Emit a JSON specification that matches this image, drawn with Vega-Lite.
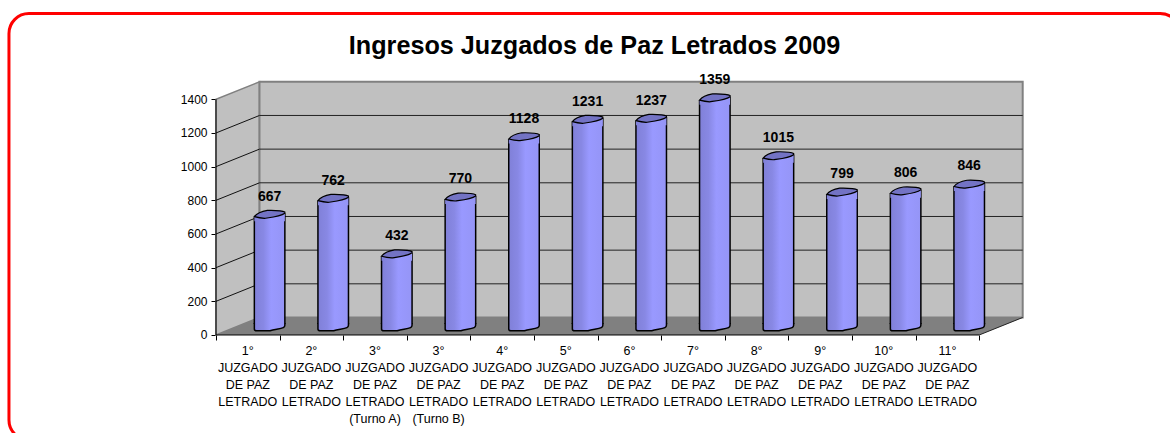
{
"$schema":"https://vega.github.io/schema/vega-lite/v6.json",
"width":1170,"height":433,"padding":0,"autosize":{"type":"none"},
"background":"white",
"title":{"text":"Ingresos Juzgados de Paz Letrados 2009","font":"Liberation Sans","fontWeight":"bold","fontSize":25.2,"color":"#000000","anchor":"middle","dx":9.5,"dy":63,"frame":"group"},
"config":{"view":{"stroke":null},"font":"Liberation Sans"},
"datasets":{
"bars":[
{"juzgado":"1°\nJUZGADO\nDE PAZ\nLETRADO","slot":0.5,"value":667},
{"juzgado":"2°\nJUZGADO\nDE PAZ\nLETRADO","slot":1.5,"value":762},
{"juzgado":"3°\nJUZGADO\nDE PAZ\nLETRADO\n(Turno A)","slot":2.5,"value":432},
{"juzgado":"3°\nJUZGADO\nDE PAZ\nLETRADO\n(Turno B)","slot":3.5,"value":770},
{"juzgado":"4°\nJUZGADO\nDE PAZ\nLETRADO","slot":4.5,"value":1128},
{"juzgado":"5°\nJUZGADO\nDE PAZ\nLETRADO","slot":5.5,"value":1231},
{"juzgado":"6°\nJUZGADO\nDE PAZ\nLETRADO","slot":6.5,"value":1237},
{"juzgado":"7°\nJUZGADO\nDE PAZ\nLETRADO","slot":7.5,"value":1359},
{"juzgado":"8°\nJUZGADO\nDE PAZ\nLETRADO","slot":8.5,"value":1015},
{"juzgado":"9°\nJUZGADO\nDE PAZ\nLETRADO","slot":9.5,"value":799},
{"juzgado":"10°\nJUZGADO\nDE PAZ\nLETRADO","slot":10.5,"value":806},
{"juzgado":"11°\nJUZGADO\nDE PAZ\nLETRADO","slot":11.5,"value":846}
],
"grid":[{"v":200},{"v":400},{"v":600},{"v":800},{"v":1000},{"v":1200}]
},
"encoding":{
"x":{"field":"x","type":"quantitative","scale":{"domain":[-3.396,15.0],"range":[0,1170],"nice":false,"zero":false},
"axis":{"values":[0,1,2,3,4,5,6,7,8,9,10,11,12],"labels":false,"domain":false,"grid":false,"ticks":true,"tickSize":5,"tickColor":"#000000","tickWidth":1,"title":null,"offset":-98}},
"y":{"field":"y","type":"quantitative","scale":{"domain":[-582.1,1989.8],"range":[433,0],"nice":false,"zero":false},
"axis":{"values":[0,200,400,600,800,1000,1200,1400],"format":"d","labels":true,"labelFontSize":12,"labelFont":"Liberation Sans","labelColor":"#000000","labelPadding":4,"domain":false,"grid":false,"ticks":true,"tickSize":5,"tickColor":"#000000","tickWidth":1,"title":null,"offset":-216}}
},
"layer":[
{"data":{"values":[{"x":-3.255,"x2":15.16,"y":1909.6,"y2":-623.6}]},
 "mark":{"type":"rect","cornerRadius":20,"fill":"transparent","stroke":"#ff0000","strokeWidth":3},
 "encoding":{"x2":{"field":"x2"},"y2":{"field":"y2"}}},
{"data":{"values":[{"x":0,"y":0,"y2":1400},{"x":0.684,"y":104,"y2":1504}]},
 "mark":{"type":"area","fill":"#c0c0c0","stroke":"#808080","strokeWidth":1.5,"opacity":1},
 "encoding":{"y2":{"field":"y2"}}},
{"data":{"values":[{"x":0.684,"x2":12.684,"y":104,"y2":1504}]},
 "mark":{"type":"rect","fill":"#c0c0c0","stroke":"#808080","strokeWidth":2},
 "encoding":{"x2":{"field":"x2"},"y2":{"field":"y2"}}},
{"data":{"name":"grid"},
 "transform":[{"calculate":"0","as":"x"},{"calculate":"0.684","as":"x2"},{"calculate":"datum.v","as":"y"},{"calculate":"datum.v+104","as":"y2"}],
 "mark":{"type":"rule","stroke":"#111111","strokeWidth":1},
 "encoding":{"x2":{"field":"x2"},"y2":{"field":"y2"}}},
{"data":{"name":"grid"},
 "transform":[{"calculate":"0.684","as":"x"},{"calculate":"12.684","as":"x2"},{"calculate":"datum.v+104","as":"y"}],
 "mark":{"type":"rule","stroke":"#222222","strokeWidth":1},
 "encoding":{"x2":{"field":"x2"}}},
{"data":{"values":[{"x":0,"y":0,"y2":0},{"x":0.684,"y":0,"y2":104},{"x":12,"y":0,"y2":104},{"x":12.684,"y":104,"y2":104}]},
 "mark":{"type":"area","fill":"#808080","opacity":1},
 "encoding":{"y2":{"field":"y2"}}},
{"data":{"values":[{"x":12,"x2":12.684,"y":0,"y2":104}]},
 "mark":{"type":"rule","stroke":"#222222","strokeWidth":1},
 "encoding":{"x2":{"field":"x2"},"y2":{"field":"y2"}}},
{"data":{"values":[{"x":0,"x2":12,"y":0}]},
 "mark":{"type":"rule","stroke":"#000000","strokeWidth":1},
 "encoding":{"x2":{"field":"x2"}}},
{"data":{"values":[{"x":0,"y":0,"y2":1400}]},
 "mark":{"type":"rule","stroke":"#000000","strokeWidth":1},
 "encoding":{"y2":{"field":"y2"}}},
{"data":{"name":"bars"},
 "transform":[{"calculate":"datum.slot+0.103","as":"x"},{"calculate":"datum.slot+0.583","as":"x2"},{"calculate":"datum.value+16","as":"y"},{"calculate":"65","as":"y2"}],
 "mark":{"type":"rect","fill":{"gradient":"linear","x1":0,"y1":0,"x2":1,"y2":0,"stops":[{"offset":0,"color":"#8080d8"},{"offset":0.3,"color":"#8888e4"},{"offset":0.55,"color":"#9999ff"},{"offset":1,"color":"#9595f6"}]}},
 "encoding":{"x2":{"field":"x2"},"y2":{"field":"y2"}}},
{"data":{"name":"bars"},
 "transform":[{"calculate":"datum.slot+0.103","as":"x"},{"calculate":"datum.value+36","as":"y"},{"calculate":"65","as":"y2"}],
 "mark":{"type":"rule","stroke":"#000000","strokeWidth":1.5},
 "encoding":{"y2":{"field":"y2"}}},
{"data":{"name":"bars"},
 "transform":[{"calculate":"datum.slot+0.583","as":"x"},{"calculate":"datum.value+56","as":"y"},{"calculate":"65","as":"y2"}],
 "mark":{"type":"rule","stroke":"#000000","strokeWidth":1.5},
 "encoding":{"y2":{"field":"y2"}}},
{"data":{"name":"bars"},
 "transform":[{"calculate":"datum.slot+0.343","as":"x"},{"calculate":"datum.value+36","as":"y"}],
 "mark":{"type":"point","filled":true,"opacity":1,"size":930,"shape":"M-1 0 L1 -.22 L1 .3 L-1 .3Z","strokeWidth":0,"fill":{"gradient":"linear","x1":0,"y1":0,"x2":1,"y2":0,"stops":[{"offset":0,"color":"#8080d8"},{"offset":0.3,"color":"#8888e4"},{"offset":0.55,"color":"#9999ff"},{"offset":1,"color":"#9595f6"}]}}},
{"data":{"name":"bars"},
 "transform":[{"calculate":"datum.slot+0.343","as":"x"},{"calculate":"datum.value+36","as":"y"}],
 "mark":{"type":"point","filled":true,"opacity":1,"size":930,"shape":"M-1 0 C-.8 .05 -.5 .1 -.34 .11 C.1 .05 .7 0 1 -.22 L1 -.3 C.8 -.42 .3 -.42 -.15 -.41 C-.5 -.35 -.85 -.2 -1 0Z","fill":"#7373c4","stroke":"#000000","strokeWidth":1.2}},
{"data":{"name":"bars"},
 "transform":[{"calculate":"datum.slot+0.343","as":"x"},{"calculate":"25.5","as":"y"}],
 "mark":{"type":"point","filled":true,"opacity":1,"size":930,"shape":"M-1 -.5 L-1 -.1 Q-1 0 -.85 0 L.03 0 C.3 -.1 .7 -.1 .9 -.2 Q1 -.25 1 -.35 L1 -.5Z","strokeWidth":0,"fill":{"gradient":"linear","x1":0,"y1":0,"x2":1,"y2":0,"stops":[{"offset":0,"color":"#8080d8"},{"offset":0.3,"color":"#8888e4"},{"offset":0.55,"color":"#9999ff"},{"offset":1,"color":"#9595f6"}]}}},
{"data":{"name":"bars"},
 "transform":[{"calculate":"datum.slot+0.343","as":"x"},{"calculate":"25.5","as":"y"}],
 "mark":{"type":"point","filled":false,"opacity":1,"size":930,"shape":"M-1 -.5 L-1 -.1 Q-1 0 -.85 0 L.03 0 C.3 -.1 .7 -.1 .9 -.2 Q1 -.25 1 -.35 L1 -.5","stroke":"#000000","strokeWidth":1.5}},
{"data":{"name":"bars"},
 "transform":[{"calculate":"datum.slot+0.343","as":"x"},{"calculate":"datum.value+155","as":"y"}],
 "mark":{"type":"text","font":"Liberation Sans","fontWeight":"bold","fontSize":14,"baseline":"middle","align":"center","fill":"#000000"},
 "encoding":{"text":{"field":"value","type":"quantitative","format":"d"}}},
{"data":{"name":"bars"},
 "transform":[{"calculate":"datum.slot","as":"x"},{"calculate":"-59.4","as":"y"}],
 "mark":{"type":"text","font":"Liberation Sans","fontSize":12.5,"baseline":"top","align":"center","lineBreak":"\n","lineHeight":17,"fill":"#000000"},
 "encoding":{"text":{"field":"juzgado","type":"nominal"}}}
]
}
